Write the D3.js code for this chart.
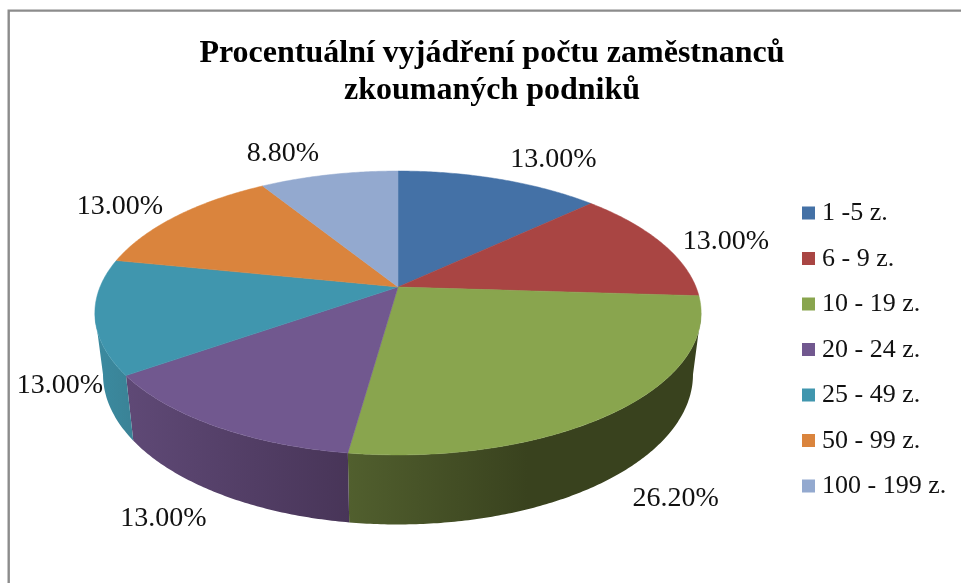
<!DOCTYPE html>
<html>
<head>
<meta charset="utf-8">
<script src="https://cdn.jsdelivr.net/npm/d3@7"></script>
<style>
  html, body { margin: 0; padding: 0; background: #fff; }
  svg { display: block; filter: blur(0.45px); }
  text { font-family: "Liberation Serif", serif; fill: #111; }
</style>
</head>
<body>
<div id="chart"></div>
<script>
const titleLines = ['Procentuální vyjádření počtu zaměstnanců', 'zkoumaných podniků'];
const categories = ['1 -5 z.', '6 - 9 z.', '10 - 19 z.', '20 - 24 z.', '25 - 49 z.', '50 - 99 z.', '100 - 199 z.'];
const values = [13.0, 13.0, 26.2, 13.0, 13.0, 13.0, 8.8];
const colors = ['#4471a6', '#a94543', '#89a54e', '#71588f', '#4096ae', '#da843d', '#93a9cf'];
// wall shading, left end and right end of each gradient
const wallLeft = { 2: '#515f2e', 3: '#5f4976', 4: '#3b8ba0' };
const wallRight = { 2: '#39421e', 3: '#483558', 4: '#3a8296' };
const labelNudge = [[54, -19], [64, -1], [58, 89], [-51, 94], [-35, 70], [-57, -8], [-46, -20]];

const width = 961, height = 583;
const centerX = 398;
const k = 0.183; // perspective strength

// top face and bottom face of the pie, both seen in perspective
const topFace = { a: 298, b: 137.2, y0: 287 };
const bottomFace = { a: 290, b: 145, y0: 347 };

// angle is clockwise from the back of the pie
function project(face, angle) {
  const w = 1 + k * Math.cos(angle);
  return [centerX + face.a * Math.sin(angle) / w, face.y0 - face.b * Math.cos(angle) / w];
}

function arcPoints(face, a0, a1) {
  const n = Math.max(2, Math.ceil(Math.abs(a1 - a0) / 0.01));
  return d3.range(n + 1).map(i => project(face, a0 + (a1 - a0) * i / n));
}

const svg = d3.select('#chart').append('svg')
  .attr('width', width)
  .attr('height', height);

const defs = svg.append('defs');
const line = d3.line();

// frame, the right and bottom sides are cut off by the crop
svg.append('path')
  .attr('d', line([[8.7, height], [8.7, 10.6], [width, 10.6]]))
  .attr('fill', 'none')
  .attr('stroke', '#8c8c8c')
  .attr('stroke-width', 2.4);

const pie = d3.pie().sort(null).value(d => d);
const slices = pie(values);

// the wall is only visible between the two silhouette angles
const wallStart = Math.acos(-k);
const wallEnd = 2 * Math.PI - wallStart;

const gWall = svg.append('g');
const gTop = svg.append('g');

slices.forEach((d, i) => {
  const a0 = Math.max(d.startAngle, wallStart);
  const a1 = Math.min(d.endAngle, wallEnd);
  if (a1 <= a0 || !wallLeft[i]) return;

  const top = arcPoints(topFace, a0, a1);
  const bottom = arcPoints(bottomFace, a1, a0);
  const xs = top.concat(bottom).map(p => p[0]);
  const grad = defs.append('linearGradient')
    .attr('id', 'wall' + i)
    .attr('gradientUnits', 'userSpaceOnUse')
    .attr('x1', d3.min(xs)).attr('x2', i == 2 ? d3.min(xs) + 180 : d3.max(xs))
    .attr('y1', 0).attr('y2', 0);
  grad.append('stop').attr('offset', 0).attr('stop-color', wallLeft[i]);
  grad.append('stop').attr('offset', 1).attr('stop-color', wallRight[i]);

  gWall.append('path')
    .attr('d', line(top.concat(bottom)) + 'Z')
    .attr('fill', `url(#wall${i})`);
});

slices.forEach((d, i) => {
  const pts = [[centerX, topFace.y0]].concat(arcPoints(topFace, d.startAngle, d.endAngle));
  gTop.append('path')
    .attr('d', line(pts) + 'Z')
    .attr('fill', colors[i])
    .attr('stroke', colors[i])
    .attr('stroke-width', 0.5);
});

// data labels
svg.append('g').selectAll('text')
  .data(slices)
  .join('text')
  .attr('x', (d, i) => project(topFace, (d.startAngle + d.endAngle) / 2)[0] + labelNudge[i][0])
  .attr('y', (d, i) => project(topFace, (d.startAngle + d.endAngle) / 2)[1] + labelNudge[i][1])
  .attr('text-anchor', 'middle')
  .attr('dominant-baseline', 'middle')
  .attr('font-size', 28)
  .text(d => d.value.toFixed(2) + '%');

// title
svg.append('g').selectAll('text')
  .data(titleLines)
  .join('text')
  .attr('x', 492)
  .attr('y', (d, i) => 62 + i * 37)
  .attr('text-anchor', 'middle')
  .attr('font-size', 32)
  .attr('font-weight', 'bold')
  .style('fill', '#000')
  .text(d => d);

// legend
const legendY = d3.scalePoint().domain(categories).range([213, 486]);
const legend = svg.append('g').selectAll('g')
  .data(categories)
  .join('g')
  .attr('transform', d => `translate(802,${legendY(d)})`);

legend.append('rect')
  .attr('x', 0).attr('y', -6.5)
  .attr('width', 13).attr('height', 13)
  .attr('fill', (d, i) => colors[i]);

legend.append('text')
  .attr('x', 20)
  .attr('y', 1.5)
  .attr('dominant-baseline', 'middle')
  .attr('font-size', 26)
  .text(d => d);
</script>
</body>
</html>
